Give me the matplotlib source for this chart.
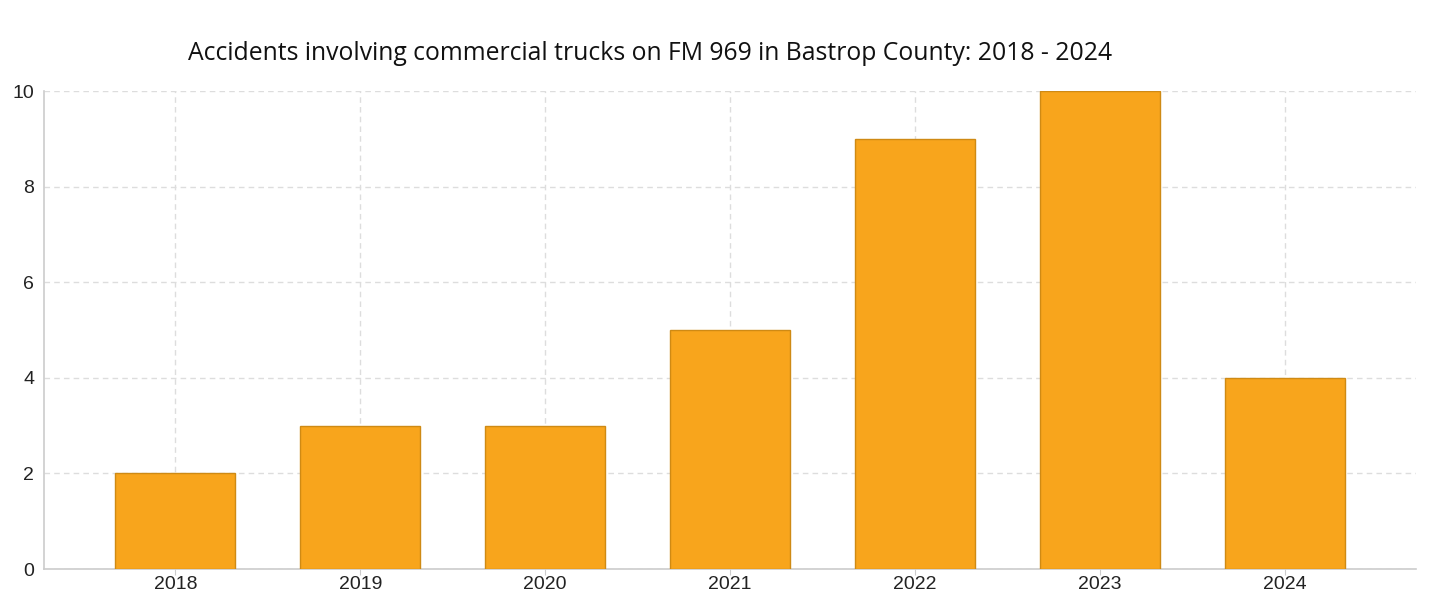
import matplotlib
matplotlib.use("Agg")
import matplotlib.pyplot as plt

years = ["2018", "2019", "2020", "2021", "2022", "2023", "2024"]
accidents = [2, 3, 3, 5, 9, 10, 4]
title = "Accidents involving commercial trucks on FM 969 in Bastrop County: 2018 - 2024"

fig = plt.figure(figsize=(14.29, 6.03), dpi=100)
ax = fig.add_axes([44/1429, 1 - 569/603, (1416 - 44)/1429, (569 - 91)/603])

x = list(range(len(years)))
ax.bar(x, accidents, width=0.65, color="#F8A51C", edgecolor="#CF8A14", linewidth=1.0, zorder=3)

ax.set_xlim(-0.71, len(years) - 1 + 0.71)
ax.set_ylim(0, 10)
ax.set_yticks([0, 2, 4, 6, 8, 10])
ax.set_xticks(x)
ax.set_xticklabels(years)

ax.grid(True, color="#DDDDDD", linestyle=(0, (4, 3)), linewidth=1.0, zorder=0)
for s in ["top", "right"]:
    ax.spines[s].set_visible(False)
for s in ["left", "bottom"]:
    ax.spines[s].set_color("#CCCCCC")
    ax.spines[s].set_linewidth(1.2)

ax.tick_params(axis="x", length=4, color="#CCCCCC", labelsize=14, pad=1)
ax.tick_params(axis="y", length=0, labelsize=14, pad=7)
for lab in ax.get_xticklabels() + ax.get_yticklabels():
    lab.set_fontfamily("Liberation Sans")
    lab.set_color("#222222")

fig.text(650/1429, 1 - 53/603, title, ha="center", va="center",
         fontsize=17.8, fontfamily="Open Sans", color="#111111")

fig.savefig("out.png", dpi=100)
